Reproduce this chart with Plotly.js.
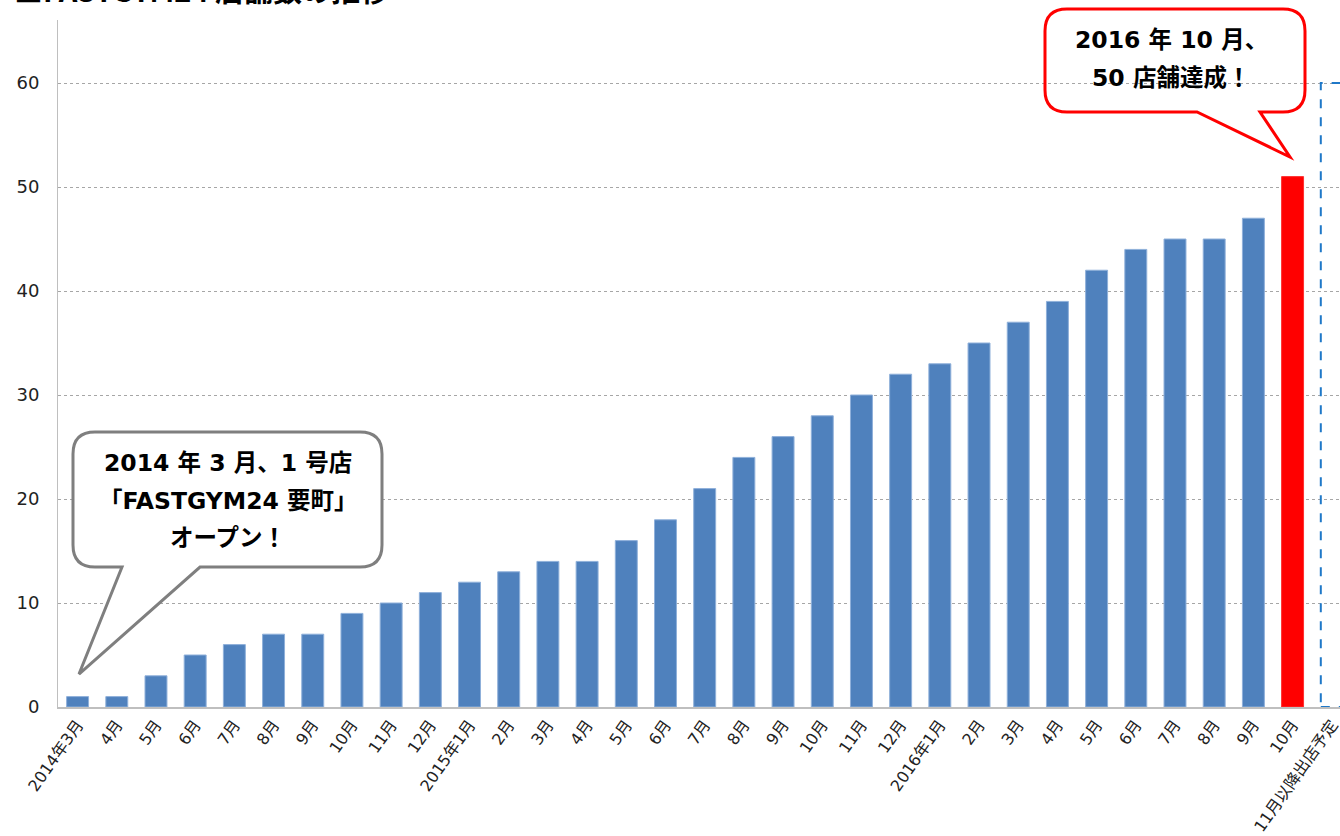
<!DOCTYPE html>
<html>
<head>
<meta charset="utf-8">
<script src="https://cdn.plot.ly/plotly-3.0.1.min.js"></script>
<style>html,body{margin:0;padding:0;background:#fff;}#chart{width:1340px;height:836px;}</style>
</head>
<body>
<div id="chart"></div>
<script>
// ---- data ----
const monthLabels = ['2014年3月','4月','5月','6月','7月','8月','9月','10月','11月','12月',
  '2015年1月','2月','3月','4月','5月','6月','7月','8月','9月','10月','11月','12月',
  '2016年1月','2月','3月','4月','5月','6月','7月','8月','9月','10月'];
const storeCounts = [1,1,3,5,6,7,7,9,10,11,
  12,13,14,14,16,18,21,24,26,28,30,32,
  33,35,37,39,42,44,45,45,47,51];
const plannedLabel = '11月以降出店予定';
const plannedCount = 60;
const titleText = '■FASTGYM24 店舗数の推移';
const noteFirst = ['2014 年 3 月、1 号店','「FASTGYM24 要町」','オープン！'];
const noteFifty = ['2016 年 10 月、','50 店舗達成！'];

const allLabels = monthLabels.concat([plannedLabel]);
const keys = allLabels.map((l,i)=>'k'+i);
const monthKeys = keys.slice(0, monthLabels.length);
const plannedKey = keys[keys.length-1];
const barColors = storeCounts.map((v,i)=> i===storeCounts.length-1 ? '#FF0000' : '#4F81BD');
const lineColors = storeCounts.map((v,i)=> i===storeCounts.length-1 ? '#FF3030' : '#8FB0DA');

// ---- geometry helpers (decoration only) ----
const W = 1340, H = 836;
const M = {l:58, r:0, t:20, b:129};
const PW = W - M.l - M.r, PH = H - M.t - M.b;
const px = x => (x - M.l)/PW;
const py = y => (M.t + PH - y)/PH;
function callout(x0,x1,y0,y1,r,ta,tb,tip){
  const P=(x,y)=>px(x).toFixed(5)+','+py(y).toFixed(5);
  return 'M'+P(x0+r,y0)+' L'+P(x1-r,y0)+' Q'+P(x1,y0)+' '+P(x1,y0+r)+
    ' L'+P(x1,y1-r)+' Q'+P(x1,y1)+' '+P(x1-r,y1)+
    ' L'+P(tb,y1)+' L'+P(tip[0],tip[1])+' L'+P(ta,y1)+
    ' L'+P(x0+r,y1)+' Q'+P(x0,y1)+' '+P(x0,y1-r)+
    ' L'+P(x0,y0+r)+' Q'+P(x0,y0)+' '+P(x0+r,y0)+' Z';
}

const traces = [
  {type:'bar', x: monthKeys, y: storeCounts,
   marker:{color: barColors, line:{color: lineColors, width:1}},
   hoverinfo:'x+y', showlegend:false},
  {type:'bar', x:[plannedKey], y:[plannedCount],
   marker:{color:'rgba(0,0,0,0)', line:{width:0}}, showlegend:false}
];

const bargap = 0.44;
const half = (1-bargap)/2;
const pIdx = keys.length-1;

const jpFont = '"DejaVu Sans", "Noto Sans CJK JP", sans-serif';
const titleFont = '"Noto Sans CJK JP", "Noto Sans", sans-serif';
const annotations = [];
annotations.push({xref:'paper', yref:'paper', x:px(12), y:py(-11), xanchor:'left', yanchor:'middle',
  text:'<b>'+titleText+'</b>', showarrow:false, font:{family:titleFont, size:29, color:'#000'}});
const firstY=[463,501,538];
noteFirst.forEach((t,i)=>annotations.push({xref:'paper', yref:'paper', x:px(228), y:py(firstY[i]),
  xanchor:'center', yanchor:'middle', text:'<b>'+t+'</b>', showarrow:false,
  font:{family:jpFont, size:23.5, color:'#000', weight:900}}));
const fiftyY=[40,78];
noteFifty.forEach((t,i)=>annotations.push({xref:'paper', yref:'paper', x:px(1171), y:py(fiftyY[i]),
  xanchor:'center', yanchor:'middle', text:'<b>'+t+'</b>', showarrow:false,
  font:{family:jpFont, size:23.5, color:'#000', weight:900}}));

const shapes = [
  {type:'rect', xref:'x', yref:'y', x0:pIdx-half, x1:pIdx+half, y0:0, y1:plannedCount,
   line:{color:'#1F78C8', width:2, dash:'dash'}, fillcolor:'rgba(0,0,0,0)', layer:'above'},
  {type:'path', xref:'paper', yref:'paper', path: callout(73,382,432,567,22,122,200,[79,674]),
   line:{color:'#7F7F7F', width:3}, fillcolor:'#FFFFFF', layer:'above'},
  {type:'path', xref:'paper', yref:'paper', path: callout(1045,1305,9,112,22,1197,1260,[1290,157]),
   line:{color:'#FF0000', width:3}, fillcolor:'rgba(0,0,0,0)', layer:'above'}
];

const layout = {
  width:W, height:H, margin:M, paper_bgcolor:'#fff', plot_bgcolor:'#fff',
  bargap: bargap, showlegend:false,
  font:{family:jpFont, color:'#222'},
  xaxis:{type:'category', categoryorder:'array', categoryarray:keys,
    tickvals:keys, ticktext:allLabels, tickangle:-55,
    range:[-0.5, 32.21], showgrid:false, zeroline:false,
    showline:true, linecolor:'#BFBFBF', linewidth:2, ticks:'',
    tickfont:{family:jpFont, size:16, color:'#222'}, automargin:false},
  yaxis:{range:[0, 66.06], tickvals:[0,10,20,30,40,50,60], showgrid:true,
    gridcolor:'#A6A6A6', griddash:'dot', gridwidth:1, zeroline:false,
    showline:true, linecolor:'#BFBFBF', linewidth:1, ticks:'', ticklabelstandoff:14,
    tickfont:{family:jpFont, size:18, color:'#222'}, automargin:false},
  annotations: annotations, shapes: shapes
};

Plotly.newPlot('chart', traces, layout, {displayModeBar:false, staticPlot:true});
</script>
</body>
</html>
